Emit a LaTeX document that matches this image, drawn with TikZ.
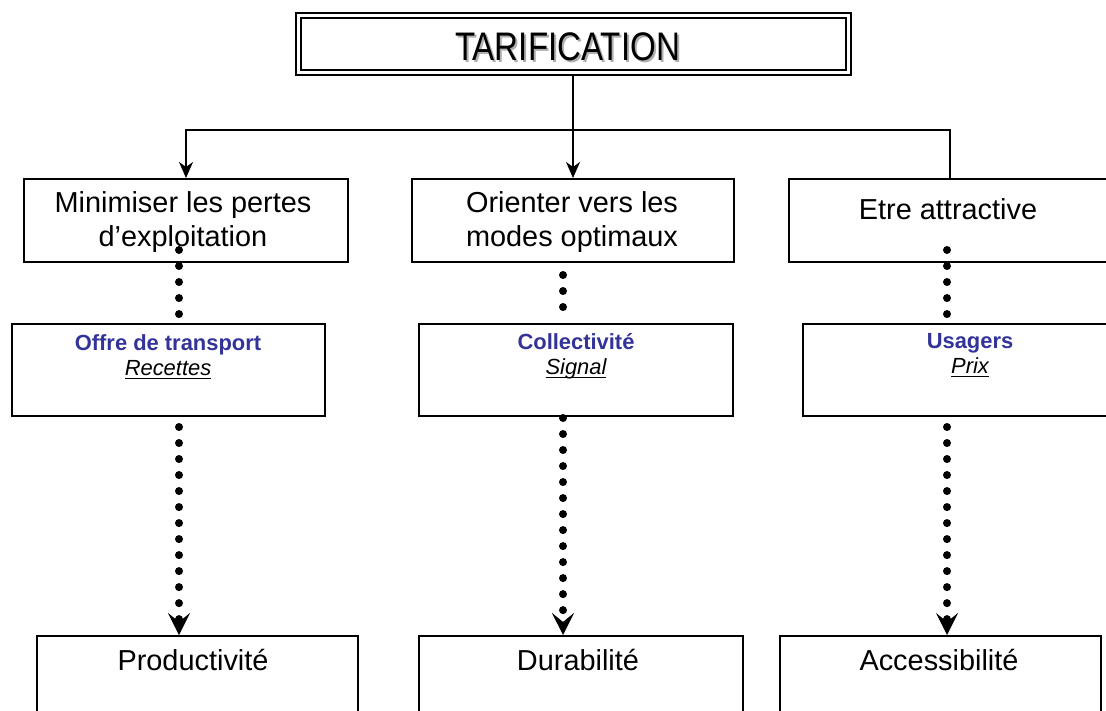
\documentclass[tikz,border=0pt]{standalone}
\usepackage{fontspec}
\setmainfont{Liberation Sans}
\usetikzlibrary{arrows.meta}
\definecolor{hdrblue}{RGB}{51,51,153}
\definecolor{shadowgray}{RGB}{175,175,175}
\newcommand\thickul[1]{\leavevmode\setbox0\hbox{#1}\rlap{\rule[-3.5bp]{\wd0}{1.6bp}}\box0}
\begin{document}
\begin{tikzpicture}[x=1bp,y=-1bp,
  box/.style={draw, line width=2bp, fill=white, rectangle, inner sep=0pt, anchor=north west},
  lbl/.style={anchor=base, inner sep=0pt, font=\fontsize{29}{34}\selectfont},
  sublbl/.style={anchor=base, inner sep=0pt, font=\fontsize{22}{26}\selectfont},
  plainlink/.style={line width=1.6bp},
  link/.style={line width=1.6bp, -{Stealth[length=16bp,width=14bp,inset=5bp]}},
  dotpath/.style={line width=8bp, line cap=round, dash pattern=on 0.01bp off 16bp},
  dotlink/.style={dotpath, -{Stealth[length=22bp,width=22bp,inset=9bp,line width=0.5bp]}}
]
\useasboundingbox (0,0) rectangle (1106,711);

% title
\node[draw, double, line width=2bp, double distance=3bp, rectangle, inner sep=0pt,
      minimum width=550bp, minimum height=57bp] (title) at (573.5,44.5) {};
\node[anchor=base, inner sep=0pt, text=shadowgray] (titleshadow) at (569.5,63)
  {\fontsize{40}{46}\selectfont\scalebox{0.83}[1]{TARIFICATION}};
\node[anchor=base, inner sep=0pt] (titletext) at (567.5,61)
  {\fontsize{40}{46}\selectfont\scalebox{0.83}[1]{TARIFICATION}};

% row 1
\node[box, minimum width=324bp, minimum height=83bp] (m1) at (23,178) {};
\node[box, minimum width=322bp, minimum height=83bp] (m2) at (411,178) {};
\node[box, minimum width=322bp, minimum height=83bp] (m3) at (788,178) {};
\node[lbl] (m1t) at (183,213) {\begin{tabular}[t]{@{}c@{}}Minimiser les pertes\\d’exploitation\end{tabular}};
\node[lbl] (m2t) at (572,213) {\begin{tabular}[t]{@{}c@{}}Orienter vers les\\modes optimaux\end{tabular}};
\node[lbl] (m3t) at (948,220) {Etre attractive};

% row 2
\node[box, minimum width=313bp, minimum height=92bp] (s1) at (11,323) {};
\node[box, minimum width=314bp, minimum height=92bp] (s2) at (418,323) {};
\node[box, minimum width=336bp, minimum height=92bp] (s3) at (802,323) {};
\node[sublbl] (s1t) at (168,350) {\begin{tabular}[t]{@{}c@{}}\textcolor{hdrblue}{\bfseries Offre de transport}\\\thickul{\itshape Recettes}\end{tabular}};
\node[sublbl] (s2t) at (576,349) {\begin{tabular}[t]{@{}c@{}}\textcolor{hdrblue}{\bfseries Collectivité}\\\thickul{\itshape Signal}\end{tabular}};
\node[sublbl] (s3t) at (970,348) {\begin{tabular}[t]{@{}c@{}}\textcolor{hdrblue}{\bfseries Usagers}\\\thickul{\itshape Prix}\end{tabular}};

% row 3
\node[box, minimum width=321bp, minimum height=100bp] (p1) at (36,635) {};
\node[box, minimum width=324bp, minimum height=100bp] (p2) at (418,635) {};
\node[box, minimum width=321bp, minimum height=100bp] (p3) at (779,635) {};
\node[lbl] (p1t) at (193,670) {Productivité};
\node[lbl] (p2t) at (578,670) {Durabilité};
\node[lbl] (p3t) at (939,670) {Accessibilité};

% solid connectors
\coordinate (j) at (573,130);
\draw[link] (title.south -| j) -- (j |- m2.north);
\draw[link] (j) -| (m1.north);
\draw[plainlink] (j) -| (m3.north);

% dotted connectors
\coordinate (a1) at (179,250);
\coordinate (a2) at (179,315);
\coordinate (a3) at (179,427);
\coordinate (b1) at (563,275);
\coordinate (b2) at (563,310);
\coordinate (b3) at (563,418);
\coordinate (c1) at (947,250);
\coordinate (c2) at (947,315);
\coordinate (c3) at (947,427);
\draw[dotpath] (a1) -- (a2);
\draw[dotpath] (b1) -- (b2);
\draw[dotpath] (c1) -- (c2);
\draw[dotlink] (a3) -- (a3 |- p1.north);
\draw[dotlink] (b3) -- (b3 |- p2.north);
\draw[dotlink] (c3) -- (c3 |- p3.north);
\end{tikzpicture}
\end{document}
